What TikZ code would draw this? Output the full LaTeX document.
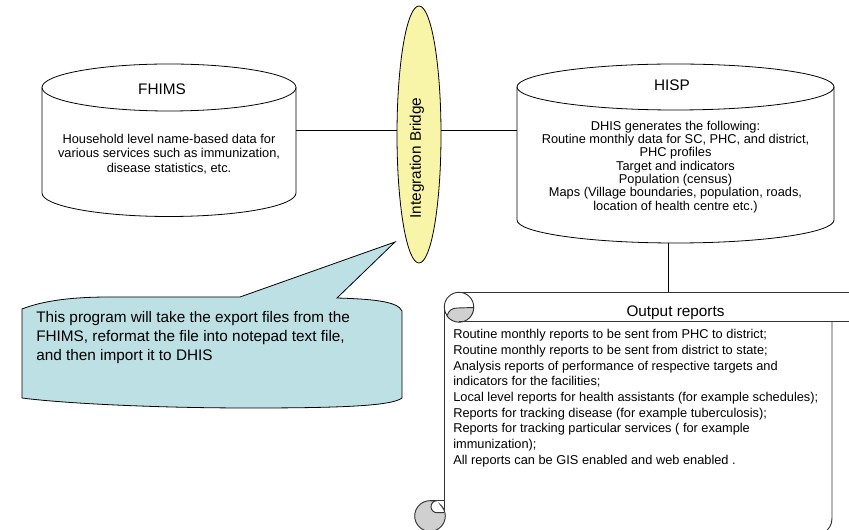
\documentclass[tikz,border=0pt]{standalone}
\usepackage{fontspec}
\setmainfont{Liberation Sans}
\usetikzlibrary{positioning,shapes.geometric}
\definecolor{bridgefill}{RGB}{248,244,168}
\definecolor{notefill}{RGB}{188,224,228}
\definecolor{curlfill}{RGB}{208,208,208}

\begin{document}
\begin{tikzpicture}[x=0.75pt,y=0.75pt,
  db/.style={draw=black, fill=white, line width=0.6pt},
  link/.style={draw=black, line width=0.6pt},
  roll/.style={draw=black!80, line width=0.7pt},
  title/.style={font=\fontsize{11.5}{13}\selectfont, inner sep=0pt},
  dbtext/.style={font=\fontsize{9.6}{10}\selectfont, align=center, inner sep=0pt},
  notetext/.style={font=\fontsize{11.5}{14.2}\selectfont, align=left, inner sep=0pt},
  listtext/.style={font=\fontsize{9.6}{11.8}\selectfont, align=left, inner sep=0pt}]
  \useasboundingbox (0,0) rectangle (849,-530);
  \clip (0,0) rectangle (849,-530);

  % FHIMS store
  \draw[db] (42,-87.5) -- (42,-193) arc[start angle=180,end angle=360,x radius=127,y radius=23.5] -- (296,-87.5);
  \draw[db] (169,-87.5) ellipse[x radius=127,y radius=23.5];
  \node[title] (fhims) at (162,-89) {FHIMS};
  \node[dbtext, font=\fontsize{9.6}{10.9}\selectfont] (fhims-data) at (169,-154)
    {Household level name-based data for\\various services such as immunization,\\disease statistics, etc.};

  % HISP store
  \draw[db] (517,-87) -- (517,-220) arc[start angle=180,end angle=360,x radius=158.5,y radius=23] -- (834,-87);
  \draw[db] (675.5,-87) ellipse[x radius=158.5,y radius=23];
  \node[title] (hisp) at (672,-85) {HISP};
  \node[dbtext] (hisp-data) at (675.5,-167)
    {DHIS generates the following:\\Routine monthly data for SC, PHC, and district,\\PHC profiles\\Target and indicators\\Population (census)\\Maps (Village boundaries, population, roads,\\location of health centre etc.)};

  % bridge between the two
  \node[ellipse, draw, fill=bridgefill, line width=0.6pt, inner sep=0pt,
        minimum width=33pt, minimum height=192.75pt] (bridge) at (419,-134.5) {};
  \node[title, rotate=90] (bridge-label) at (417,-158) {Integration Bridge};

  \coordinate (fhims-e) at (296,-130);
  \coordinate (hisp-w) at (517,-130);
  \coordinate (hisp-s) at (668,-243);
  \draw[link] (fhims-e) -- (fhims-e -| bridge.west);
  \draw[link] (bridge.east |- hisp-w) -- (hisp-w);

  % note pointing at the bridge
  \draw[fill=notefill, line width=0.6pt] (22,-309) .. controls (45,-300) and (75,-297) .. (110,-297)
    -- (240,-297) -- (395,-242) -- (337,-298)
    .. controls (370,-299) and (398,-301) .. (402,-311) -- (402,-398)
    .. controls (392,-406) and (340,-408) .. (250,-408)
    .. controls (150,-408) and (60,-403) .. (22,-398) -- cycle;
  \node[notetext, anchor=north west] (note) at (36,-311)
    {This program will take the export files from the\\FHIMS, reformat the file into notepad text file,\\and then import it to DHIS};

  % output scroll
  \coordinate (rolltop) at (459,-292.3);
  \draw[link] (hisp-s) -- (hisp-s |- rolltop);
  \draw[roll, fill=white] (459,-307) circle[radius=14.7];
  \draw[roll, fill=curlfill] (473.7,-307.5) arc[start angle=0,end angle=-145,radius=14.7]
    .. controls (449,-310) and (452,-308) .. (458,-308) -- cycle;
  \draw[roll] (rolltop) -- (849,-292.3);
  \draw[roll] (459,-321.7) -- (849,-321.7);
  \draw[roll] (444.3,-307) -- (444.3,-516);
  \draw[roll] (832,-321.7) -- (832,-518) .. controls (832,-525) and (829,-529) .. (824,-533);
  \draw[roll, fill=curlfill] (430,-516) circle[radius=15.3];
  \draw[roll] (430,-500.7) -- (444.3,-500.7);
  \draw[roll, fill=white] (437,-500.7) arc[start angle=90,end angle=270,radius=6] -- (444.3,-512.7);

  \node[title] (reports) at (675.5,-313) {Output reports};
  \node[listtext, anchor=north west] (reports-list) at (453,-329)
    {Routine monthly reports to be sent from PHC to district;\\
     Routine monthly reports to be sent from district to state;\\
     Analysis reports of performance of respective targets and\\
     indicators for the facilities;\\
     Local level reports for health assistants (for example schedules);\\
     Reports for tracking disease (for example tuberculosis);\\
     Reports for tracking particular services ( for example\\
     immunization);\\
     All reports can be GIS enabled and web enabled .};
\end{tikzpicture}
\end{document}
